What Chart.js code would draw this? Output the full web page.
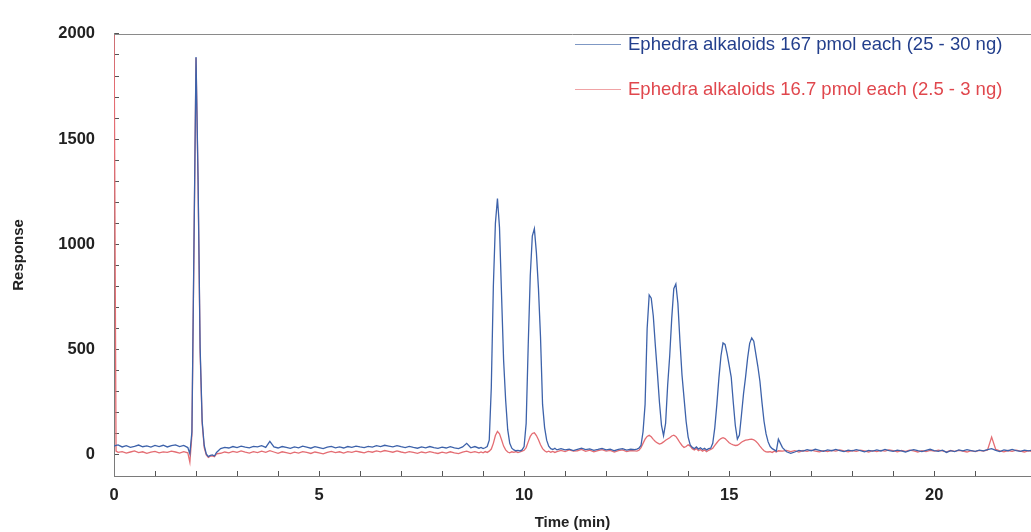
<!DOCTYPE html>
<html><head><meta charset="utf-8">
<script src="https://cdn.jsdelivr.net/npm/chart.js@4.4.1/dist/chart.umd.min.js"></script>
<style>html,body{margin:0;padding:0;background:#fff;}canvas{display:block;}</style>
</head><body>
<canvas id="c" width="1031" height="532"></canvas>
<script>
// Retention time (min)
const times = [
  0, 0.05, 0.1, 0.2, 0.3, 0.4, 0.5, 0.6, 0.7, 0.8, 0.9, 1.0, 1.1, 1.2, 1.3, 1.4, 1.5, 1.6, 1.7, 1.8,
  1.85, 1.9, 1.95, 2.0, 2.05, 2.1, 2.15, 2.2, 2.25, 2.3, 2.35, 2.4, 2.45, 2.5,
  2.6, 2.7, 2.8, 2.9, 3.0, 3.1, 3.2, 3.3, 3.4, 3.5, 3.6, 3.7, 3.8, 3.9, 4.0, 4.1, 4.2, 4.3, 4.4, 4.5,
  4.6, 4.7, 4.8, 4.9, 5.0, 5.1, 5.2, 5.3, 5.4, 5.5, 5.6, 5.7, 5.8, 5.9, 6.0, 6.1, 6.2, 6.3, 6.4, 6.5,
  6.6, 6.7, 6.8, 6.9, 7.0, 7.1, 7.2, 7.3, 7.4, 7.5, 7.6, 7.7, 7.8, 7.9, 8.0, 8.1, 8.2, 8.3, 8.4, 8.5,
  8.6, 8.7, 8.8, 8.9,
  8.95, 9.0, 9.05, 9.1, 9.15, 9.2, 9.25, 9.3, 9.35, 9.4, 9.45, 9.5, 9.55, 9.6, 9.65, 9.7, 9.75, 9.8, 9.85, 9.9,
  9.95, 10.0, 10.05, 10.1, 10.15, 10.2, 10.25, 10.3, 10.35, 10.4, 10.45, 10.5, 10.55, 10.6, 10.65, 10.7, 10.75, 10.8,
  10.9, 11.0, 11.1, 11.2, 11.3, 11.4, 11.5, 11.6, 11.7, 11.8, 11.9, 12.0, 12.1, 12.2, 12.3, 12.4, 12.5, 12.6, 12.7,
  12.75, 12.8, 12.85, 12.9, 12.95, 13.0, 13.05, 13.1, 13.15, 13.2,
  13.25, 13.3, 13.35, 13.4, 13.45, 13.5, 13.55, 13.6, 13.65, 13.7,
  13.75, 13.8, 13.85, 13.9, 13.95, 14.0, 14.05, 14.1, 14.15, 14.2,
  14.25, 14.3, 14.35, 14.4, 14.45, 14.5, 14.55, 14.6, 14.65, 14.7,
  14.75, 14.8, 14.85, 14.9, 14.95, 15.0, 15.05, 15.1, 15.15, 15.2,
  15.25, 15.3, 15.35, 15.4, 15.45, 15.5, 15.55, 15.6, 15.65, 15.7,
  15.75, 15.8, 15.85, 15.9, 15.95, 16.0, 16.05, 16.1, 16.15, 16.2,
  16.3, 16.4, 16.5, 16.6, 16.7, 16.8, 16.9, 17.0, 17.1, 17.2,
  17.3, 17.4, 17.5, 17.6, 17.7, 17.8, 17.9, 18.0, 18.1, 18.2,
  18.3, 18.4, 18.5, 18.6, 18.7, 18.8, 18.9, 19.0, 19.1, 19.2,
  19.3, 19.4, 19.5, 19.6, 19.7, 19.8, 19.9, 20.0, 20.1, 20.2,
  20.3, 20.4, 20.5, 20.6, 20.7, 20.8, 20.9, 21.0, 21.1, 21.2,
  21.3, 21.4, 21.5, 21.6, 21.7, 21.8, 21.9, 22.0, 22.1, 22.2,
  22.3, 22.4
];

// Ephedra alkaloids 167 pmol each (blue trace)
const response167 = [
  42, 45, 48, 38, 44, 36, 41, 47, 39, 43, 37, 45, 40, 46, 38, 44, 48, 40, 45, 35,
  5, 110, 1000, 1890, 1310, 510, 160, 45, 5, -8, -2, 0, -5, 12,
  30, 36, 33, 40, 35, 42, 37, 34, 41, 38, 44, 36, 64, 38, 33, 40, 36, 31, 38, 34,
  42, 37, 32, 39, 35, 30, 37, 41, 34, 38, 33, 40, 36, 42, 38, 35, 41, 37, 44, 40,
  46, 42, 38, 44, 39, 35, 41, 36, 32, 38, 34, 40, 35, 31, 37, 33, 39, 34, 30, 38,
  55, 34, 40, 32,
  36, 30, 34, 40, 70, 320, 800, 1100, 1218, 1080, 760, 450, 260, 120, 55, 32, 24, 20, 22, 19,
  24, 40, 150, 520, 850, 1040, 1075, 960, 790, 560, 240, 130, 70, 42, 30, 26, 32, 24,
  30, 24, 28, 21, 27, 32, 25, 29, 22, 26, 31, 24, 28, 20, 26, 30, 23, 27, 25,
  28, 32, 45, 110, 240, 600, 760, 745, 660, 520,
  390, 250, 140, 92, 150, 330, 470, 650, 790, 812,
  720, 540, 380, 270, 160, 85, 48, 36, 30, 38,
  28, 34, 26, 32, 24, 30, 32, 55, 130, 240,
  365, 470, 532, 525, 480, 425, 370, 250, 140, 75,
  95, 190, 290, 370, 460, 530, 556, 540, 480, 420,
  350, 250, 160, 100, 62, 40, 30, 24, 18, 75,
  35, 15, 8, 14, 22, 18, 25, 20, 27, 22,
  17, 24, 20, 26, 21, 16, 23, 19, 25, 21,
  15, 22, 18, 24, 19, 26, 21, 17, 23, 19,
  14, 21, 25, 20, 16, 22, 27, 21, 17, 23,
  12, 20, 16, 24, 19, 25, 21, 17, 23, 19,
  25, 30, 22, 16, 24, 20, 26, 21, 17, 23,
  19, 24
];

// Ephedra alkaloids 16.7 pmol each (red trace)
const response16_7 = [
  2100, 18, 12, 16, 9, 14, 19, 11, 15, 8, 13, 17, 10, 15, 12, 18, 14, 9, 16, 10,
  -35, 95, 980, 1885, 1290, 490, 150, 35, 0, -12, -6, -4, -8, 5,
  8, 14, 10, 17, 12, 19, 13, 9, 16, 11, 18, 12, 20, 14, 8, 15, 11, 6, 13, 9,
  16, 12, 7, 14, 10, 5, 12, 17, 11, 15, 9, 16, 12, 18, 14, 10, 17, 13, 19, 15,
  21, 17, 13, 19, 14, 10, 16, 12, 8, 14, 10, 16, 11, 7, 13, 9, 15, 10, 6, 13,
  18, 11, 16, 10,
  14, 10, 16, 12, 18, 28, 55, 92, 112, 100, 72, 42, 24, 14, 10, 15, 12, 16, 11, 14,
  18, 22, 35, 62, 88, 102, 105, 92, 72, 48, 30, 20, 14, 18, 13, 17, 12, 16,
  22, 16, 24, 18, 20, 26, 17, 23, 15, 21, 25, 18, 22, 14, 20, 24, 16, 21, 19,
  18, 22, 35, 55, 75, 88, 93, 86, 74, 64,
  57, 52, 55, 62, 70, 76, 82, 90, 94, 88,
  74, 58, 45, 36, 40, 48, 42, 30, 24, 30,
  20, 26, 18, 24, 16, 22, 26, 32, 45, 58,
  70, 78, 82, 78, 68, 58, 52, 48, 45, 46,
  52, 60, 66, 70, 72, 74, 75, 72, 65, 55,
  42, 30, 20, 15, 14, 16, 12, 18, 14, 20,
  18, 22, 16, 20, 14, 21, 17, 23, 18, 15,
  20, 16, 22, 18, 24, 19, 15, 21, 17, 23,
  19, 14, 20, 16, 22, 18, 24, 20, 15, 21,
  17, 23, 19, 14, 20, 16, 22, 18, 23, 19,
  15, 21, 17, 22, 18, 14, 20, 16, 22, 18,
  24, 85, 26, 19, 15, 21, 17, 23, 18, 14,
  20, 16
];

const seriesNames = [
  'Ephedra alkaloids 167 pmol each (25 - 30 ng)',
  'Ephedra alkaloids 16.7 pmol each (2.5 - 3 ng)'
];
const xTickLabels = [0, 5, 10, 15, 20];
const yTickLabels = [0, 500, 1000, 1500, 2000];

if (response167.length !== times.length || response16_7.length !== times.length) {
  throw new Error('length mismatch: times ' + times.length + ' blue ' + response167.length + ' red ' + response16_7.length);
}

const toPoints = arr => times.map((t, i) => ({x: t, y: arr[i]}));

const frameAndLegend = {
  id: 'frameAndLegend',
  afterDraw(chart) {
    const {ctx, chartArea} = chart;
    ctx.save();
    ctx.strokeStyle = '#8a8a8a';
    ctx.lineWidth = 1;
    ctx.beginPath();
    ctx.moveTo(chartArea.left, Math.round(chartArea.top) + 0.5);
    ctx.lineTo(chartArea.right, Math.round(chartArea.top) + 0.5);
    ctx.stroke();
    const rows = [44, 89];
    chart.data.datasets.forEach((ds, i) => {
      const y = rows[i];
      ctx.strokeStyle = ds.legendLine;
      ctx.lineWidth = 1;
      ctx.beginPath();
      ctx.moveTo(575, y + 0.5);
      ctx.lineTo(621, y + 0.5);
      ctx.stroke();
      ctx.fillStyle = ds.legendText;
      ctx.font = '18.5px "Liberation Sans", Arial, sans-serif';
      ctx.textBaseline = 'middle';
      ctx.textAlign = 'left';
      ctx.fillText(ds.label, 628, y + 1);
    });
    ctx.restore();
  }
};

new Chart(document.getElementById('c'), {
  type: 'line',
  data: {
    datasets: [
      {
        label: seriesNames[0],
        data: toPoints(response167),
        borderColor: '#3d62aa',
        borderWidth: 1.3,
        pointRadius: 0,
        tension: 0,
        legendLine: '#7f98c4',
        legendText: '#233f8c'
      },
      {
        label: seriesNames[1],
        data: toPoints(response16_7),
        borderColor: '#e46d73',
        borderWidth: 1.3,
        pointRadius: 0,
        tension: 0,
        legendLine: '#f0a3a5',
        legendText: '#e0474d'
      }
    ]
  },
  options: {
    responsive: false,
    animation: false,
    events: [],
    layout: {padding: {top: 23, right: 0, bottom: 0, left: 0}},
    plugins: {legend: {display: false}, tooltip: {enabled: false}},
    scales: {
      x: {
        type: 'linear',
        min: 0,
        max: 22.36,
        afterBuildTicks: s => { s.ticks = s.ticks.filter(t => Math.abs(t.value - Math.round(t.value)) < 1e-9); },
        afterFit: s => { s.height = 56; },
        ticks: {
          stepSize: 1,
          autoSkip: false,
          maxRotation: 0,
          padding: 15,
          color: '#222',
          font: {family: '"Liberation Sans", Arial, sans-serif', size: 16.5, weight: 'bold'},
          callback: v => xTickLabels.includes(v) ? String(v) : ''
        },
        grid: {drawOnChartArea: false, tickLength: -5, color: '#555', lineWidth: 1},
        border: {display: true, color: '#7a7a7a', width: 1},
        title: {
          display: true,
          text: 'Time (min)',
          color: '#222',
          font: {family: '"Liberation Sans", Arial, sans-serif', size: 15, weight: 'bold'},
          padding: {top: 0, bottom: 0}
        }
      },
      y: {
        type: 'linear',
        min: -100,
        max: 2000,
        afterFit: s => { s.width = 114; },
        ticks: {
          stepSize: 100,
          autoSkip: false,
          padding: 24,
          color: '#222',
          font: {family: '"Liberation Sans", Arial, sans-serif', size: 16.5, weight: 'bold'},
          callback: v => yTickLabels.includes(v) ? String(v) : ''
        },
        grid: {drawOnChartArea: false, tickLength: -5, color: '#555', lineWidth: 1},
        border: {display: true, color: '#7a7a7a', width: 1},
        title: {
          display: true,
          text: 'Response',
          color: '#222',
          font: {family: '"Liberation Sans", Arial, sans-serif', size: 15, weight: 'bold'},
          padding: {top: 10, bottom: 0}
        }
      }
    }
  },
  plugins: [frameAndLegend]
});
</script>
</body></html>
